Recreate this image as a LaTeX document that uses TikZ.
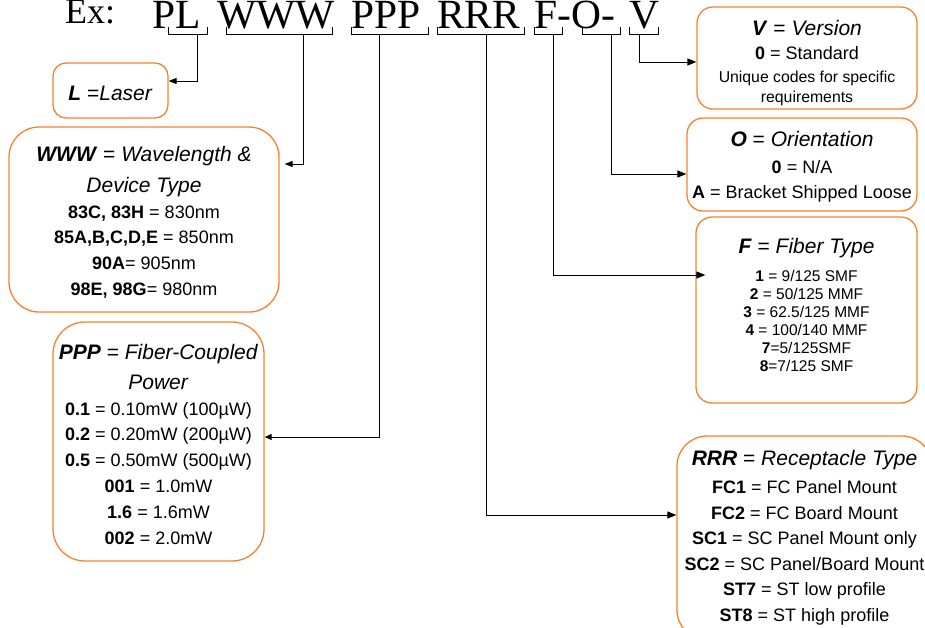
\documentclass[tikz,border=0pt]{standalone}
\usepackage{fontspec}
\setmainfont{Liberation Sans}
\newfontfamily\codefont{Liberation Serif}
\usetikzlibrary{arrows.meta}
\definecolor{boxorange}{HTML}{F7812D}
% heading of a box: bold italic code, italic meaning
\newcommand{\hd}[2]{{\fontsize{21}{26}\selectfont\textbf{\textit{#1}} = \textit{#2}}}
\newcommand{\hi}[1]{{\fontsize{21}{26}\selectfont\textit{#1}}}

\begin{document}
\begin{tikzpicture}[x=1pt, y=-1pt,
  code/.style={font=\codefont\fontsize{41.5}{42}\selectfont, anchor=base west, inner sep=0pt},
  codebox/.style={draw=boxorange, line width=1.3pt, align=center, inner sep=0pt},
  brk/.style={line width=0.9pt},
  arr/.style={line width=1pt, -{Triangle[length=9pt,width=7pt]}}]
\useasboundingbox (0,0) rectangle (925,627);

% part number
\node[code, font=\codefont\fontsize{36}{36}\selectfont] (ex) at (65,23) {Ex:};
\node[code] (pl) at (152.6,28.5) {PL};
\node[code] (www) at (217,28.5) {WWW};
\node[code] (ppp) at (351.5,28.5) {PPP};
\node[code] (rrr) at (437,28.5) {RRR};
\node[code] (fo) at (534.5,28.5) {F-O-};
\node[code] (v) at (629,28.5) {V};

% brackets under the fields
\draw[brk] (168,27) |- (207,34) -- (207,27);
\draw[brk] (226,27) |- (332,34) -- (332,27);
\draw[brk] (351,27) |- (428,34) -- (428,27);
\draw[brk] (437,27) |- (524,34) -- (524,27);
\draw[brk] (534,27) |- (562,34) -- (562,27);
\draw[brk] (582,27) |- (620,34) -- (620,27);
\draw[brk] (629,27) |- (658,34) -- (658,27);
\coordinate (sL) at (197,34);
\coordinate (sW) at (303,34);
\coordinate (sP) at (379,34);
\coordinate (sR) at (486,34);
\coordinate (sF) at (553,34);
\coordinate (sO) at (611,34);
\coordinate (sV) at (639,34);

% left column
\node[codebox, minimum width=115pt, minimum height=55pt, rounded corners=13pt] (lbox) at (110.5,90.5)
  {{\fontsize{21}{26}\selectfont\rule{0pt}{21pt}\textbf{\textit{L}} =\textit{Laser}}};
\node[codebox, minimum width=270pt, minimum height=185pt, rounded corners=30pt,
  font=\fontsize{18}{25.7}\selectfont] (wbox) at (144,219.5)
  {\rule{0pt}{21pt}\hd{WWW}{Wavelength \&}\\[5pt] \hi{Device Type}\\
   \textbf{83C, 83H} = 830nm\\ \textbf{85A,B,C,D,E} = 850nm\\
   \textbf{90A}= 905nm\\ \textbf{98E, 98G}= 980nm};
\node[codebox, minimum width=211pt, minimum height=239pt, rounded corners=32pt,
  font=\fontsize{18}{25.9}\selectfont] (pbox) at (158.5,441.5)
  {\rule{0pt}{21pt}\hd{PPP}{Fiber-Coupled}\\[4pt] \hi{Power}\\
   \textbf{0.1} = 0.10mW (100µW)\\ \textbf{0.2} = 0.20mW (200µW)\\
   \textbf{0.5} = 0.50mW (500µW)\\ \textbf{001} = 1.0mW\\
   \textbf{1.6} = 1.6mW\\ \textbf{002} = 2.0mW};

% right column
\node[codebox, minimum width=220pt, minimum height=102pt, rounded corners=16pt,
  font=\fontsize{15.8}{20}\selectfont] (vbox) at (807,58)
  {\rule{0pt}{26pt}\hd{V}{Version}\\[4pt] {\fontsize{18}{23}\selectfont\textbf{0} = Standard}\\[3pt]
   Unique codes for specific\\ requirements};
\node[codebox, minimum width=230pt, minimum height=93pt, rounded corners=16pt,
  font=\fontsize{18}{25}\selectfont] (obox) at (802,164.5)
  {\rule{0pt}{20pt}\hd{O}{Orientation}\\[2pt] \textbf{0} = N/A\\ \textbf{A} = Bracket Shipped Loose};
\node[codebox, minimum width=221pt, minimum height=186pt, rounded corners=16pt,
  font=\fontsize{15.5}{18}\selectfont] (fbox) at (806.5,310)
  {\hd{F}{Fiber Type}\\[10pt] \textbf{1} = 9/125 SMF\\ \textbf{2} = 50/125 MMF\\
   \textbf{3} = 62.5/125 MMF\\ \textbf{4} = 100/140 MMF\\
   \textbf{7}=5/125SMF\\ \textbf{8}=7/125 SMF\rule[-11pt]{0pt}{11pt}};
\node[codebox, minimum width=255pt, minimum height=204pt, rounded corners=30pt,
  font=\fontsize{18}{25.6}\selectfont] (rbox) at (804.5,538)
  {\hd{RRR}{Receptacle Type}\\[2pt] \textbf{FC1} = FC Panel Mount\\
   \textbf{FC2} = FC Board Mount\\ \textbf{SC1} = SC Panel Mount only\\
   \textbf{SC2} = SC Panel/Board Mount\\ \textbf{ST7} = ST low profile\\
   \textbf{ST8} = ST high profile};

% connectors
\coordinate (cL) at (197,81);
\coordinate (cW) at (303,164);
\coordinate (cP) at (379,437);
\coordinate (cR) at (486,515);
\coordinate (cF) at (553,275);
\coordinate (cO) at (611,174);
\coordinate (cV) at (639,62);
\draw[arr, -{Triangle[length=8pt,width=6pt]}] (sL) -- (cL) -- (lbox.east |- cL);
\draw[arr, -{Triangle[length=8pt,width=6pt]}, shorten >=5pt] (sW) -- (cW) -- (wbox.east |- cW);
\draw[arr, -{Triangle[length=7pt,width=6pt]}] (sP) -- (cP) -- (pbox.east |- cP);
\draw[arr] (sR) -- (cR) -- (rbox.west |- cR);
\draw[arr, shorten >=-10pt] (sF) -- (cF) -- (fbox.west |- cF);
\draw[arr] (sO) -- (cO) -- (obox.west |- cO);
\draw[arr] (sV) -- (cV) -- (vbox.west |- cV);
\end{tikzpicture}
\end{document}
